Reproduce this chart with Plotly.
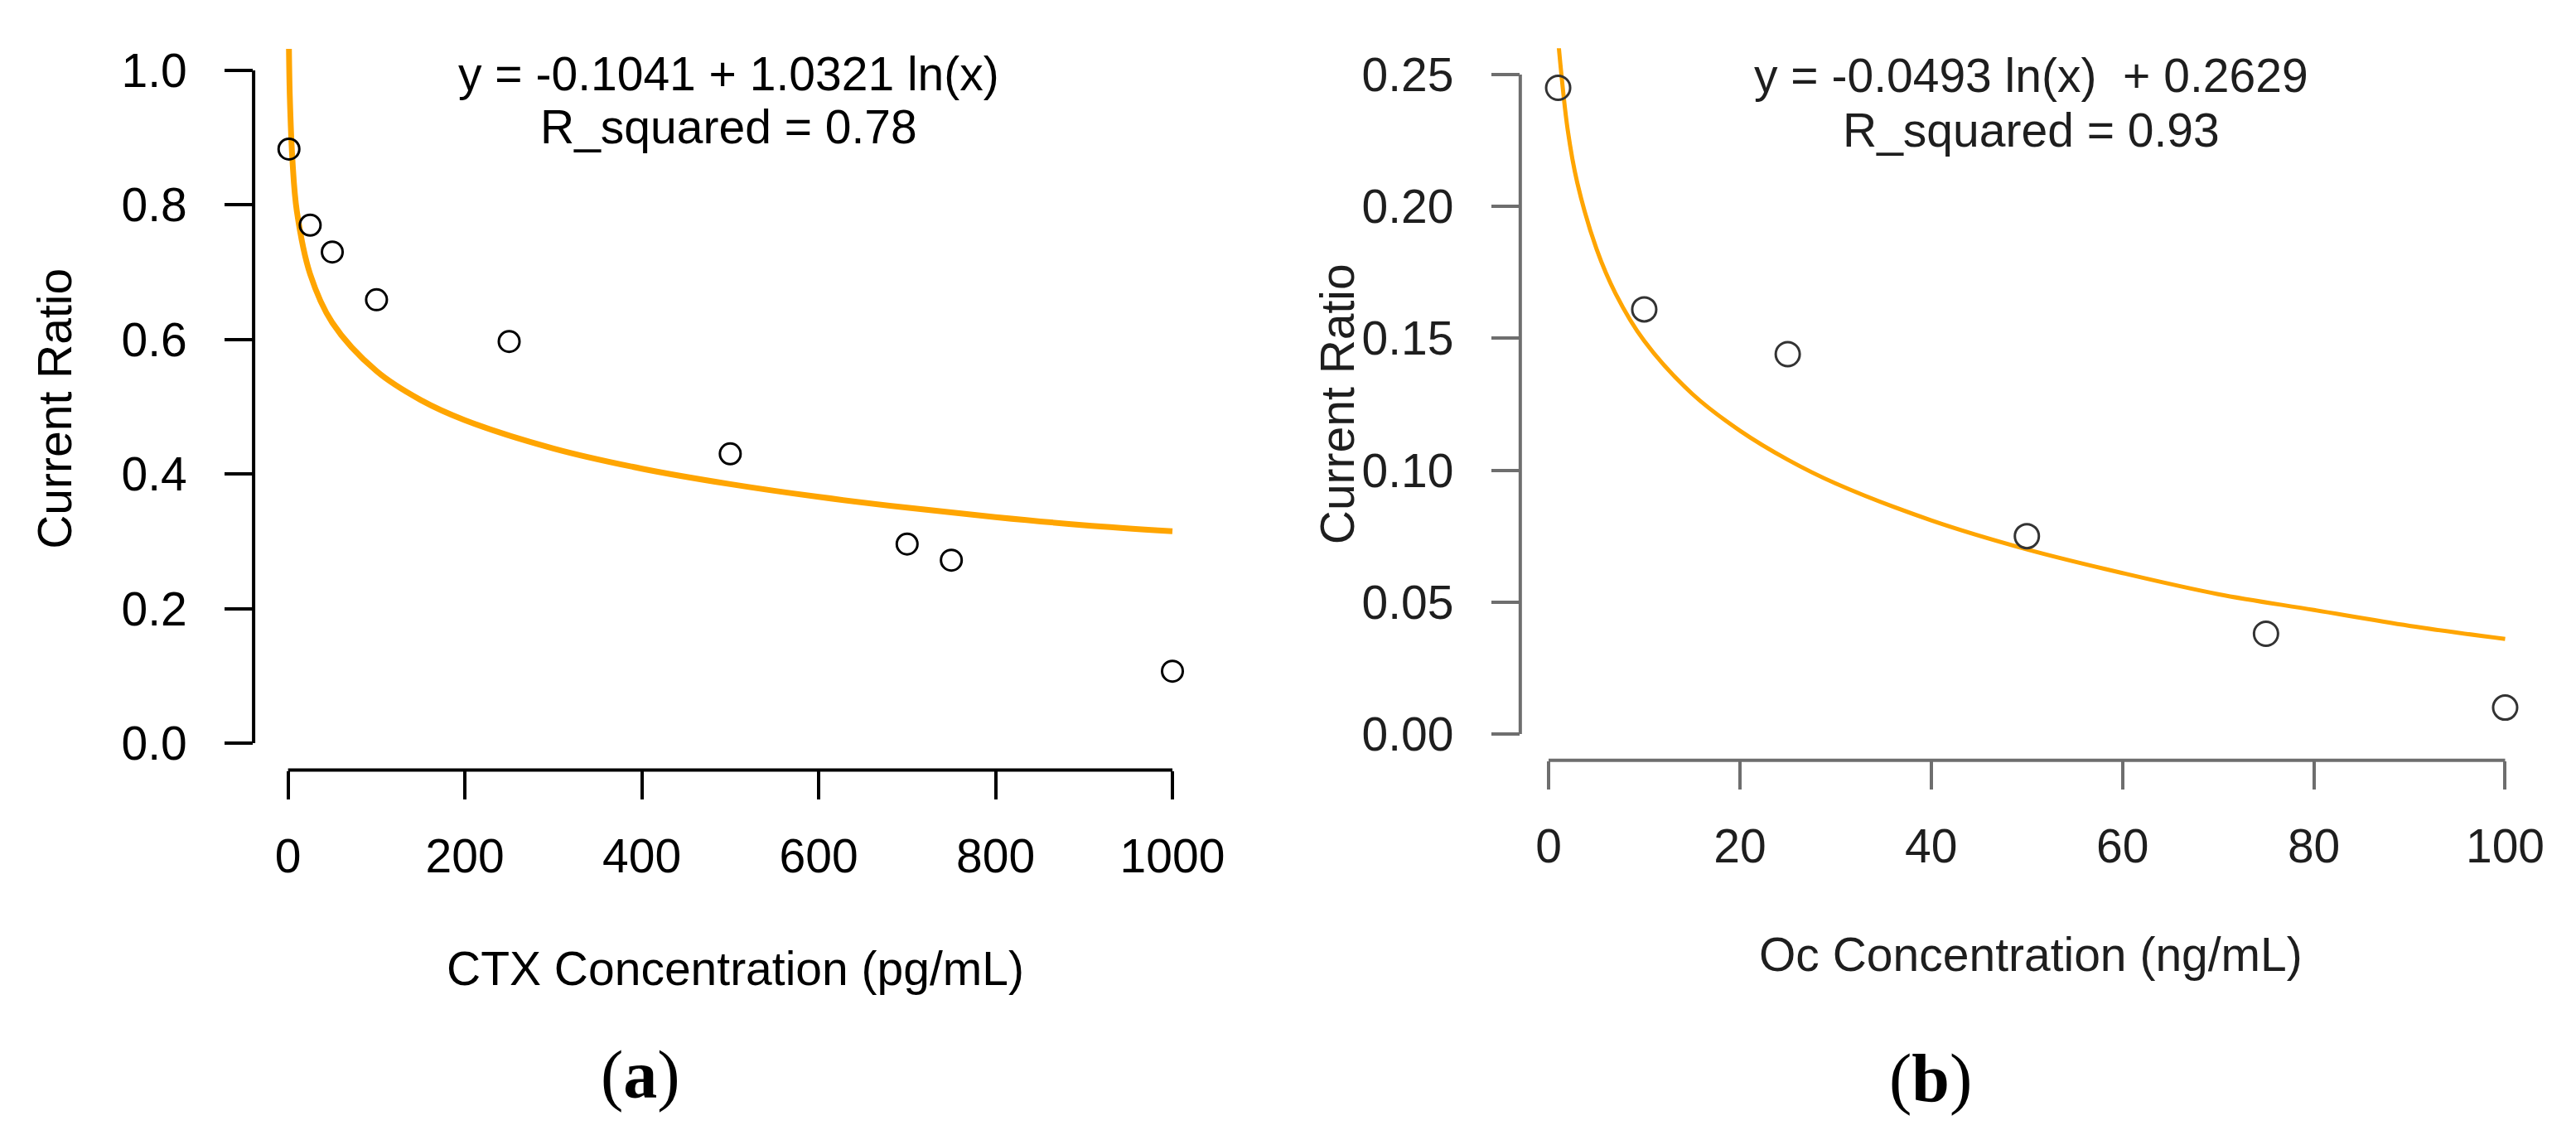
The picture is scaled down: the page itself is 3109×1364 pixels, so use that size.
import plotly.graph_objects as go

W, H = 3109, 1364

# panel (a): CTX
ctx_x = [1, 25, 50, 100, 250, 500, 700, 750, 1000]
ctx_y = [0.883, 0.770, 0.730, 0.659, 0.597, 0.430, 0.296, 0.272, 0.107]
ctx_fit_x = [1, 2, 5, 10, 25, 50, 100, 150, 200, 300, 400, 500, 600, 700, 800, 900, 1000]
ctx_fit_y = [1.032, 0.96, 0.865, 0.79, 0.697, 0.625, 0.553, 0.51, 0.48, 0.438, 0.408, 0.385,
             0.366, 0.35, 0.336, 0.324, 0.315]
ctx_xticks = [0, 200, 400, 600, 800, 1000]
ctx_yticks = [0.0, 0.2, 0.4, 0.6, 0.8, 1.0]
ctx_yticktext = ["0.0", "0.2", "0.4", "0.6", "0.8", "1.0"]

# panel (b): Oc
oc_x = [1, 10, 25, 50, 75, 100]
oc_y = [0.245, 0.161, 0.144, 0.075, 0.038, 0.010]
oc_fit_x = [1, 2, 3, 5, 7, 10, 15, 20, 25, 30, 40, 50, 60, 70, 80, 90, 100]
oc_fit_y = [0.263, 0.229, 0.209, 0.184, 0.167, 0.149, 0.129, 0.115, 0.104, 0.095, 0.081,
            0.070, 0.061, 0.053, 0.047, 0.041, 0.036]
oc_xticks = [0, 20, 40, 60, 80, 100]
oc_yticks = [0.00, 0.05, 0.10, 0.15, 0.20, 0.25]
oc_yticktext = ["0.00", "0.05", "0.10", "0.15", "0.20", "0.25"]

SANS = "Liberation Sans, Arial, sans-serif"
SERIF = "Liberation Serif, Times New Roman, serif"
ORANGE = "#FFA500"

fig = go.Figure()
fig.add_trace(go.Scatter(x=ctx_fit_x, y=ctx_fit_y, mode="lines", line_shape="spline",
                         line={"color": ORANGE, "width": 7}, xaxis="x", yaxis="y"))
fig.add_trace(go.Scatter(x=ctx_x, y=ctx_y, mode="markers", xaxis="x", yaxis="y",
                         marker={"symbol": "circle-open", "size": 25, "color": "black",
                                 "line": {"width": 3, "color": "black"}}))
fig.add_trace(go.Scatter(x=oc_fit_x, y=oc_fit_y, mode="lines", line_shape="spline",
                         line={"color": ORANGE, "width": 5}, xaxis="x2", yaxis="y2"))
fig.add_trace(go.Scatter(x=oc_x, y=oc_y, mode="markers", xaxis="x2", yaxis="y2",
                         marker={"symbol": "circle-open", "size": 29, "color": "#333333",
                                 "line": {"width": 3, "color": "#333333"}}))


def axis(domain, rng, ticks, text, color, font_color, anchor, standoff):
    return {
        "domain": domain,
        "range": rng,
        "anchor": anchor,
        "tickmode": "array",
        "tickvals": ticks,
        "ticktext": text,
        "ticks": "outside",
        "ticklen": 34,
        "tickwidth": 4,
        "tickcolor": color,
        "tickfont": {"family": SANS, "size": 57, "color": font_color},
        "ticklabelstandoff": standoff,
        "showline": False,
        "showgrid": False,
        "zeroline": False,
    }


fig.update_layout(
    width=W,
    height=H,
    margin={"l": 0, "r": 0, "t": 0, "b": 0},
    paper_bgcolor="white",
    plot_bgcolor="white",
    showlegend=False,
    xaxis=axis([0.0965, 0.4693], [-38.96, 1039.96], ctx_xticks, [str(v) for v in ctx_xticks],
               "black", "black", "y", 20),
    yaxis=axis([0.3244, 0.9674], [-0.04, 1.04], ctx_yticks, ctx_yticktext,
               "black", "black", "x", 34),
    xaxis2=axis([0.5914, 0.9910], [-2.96, 103.96], oc_xticks, [str(v) for v in oc_xticks],
                "#6e6e6e", "#1e1e1e", "y2", 20),
    yaxis2=axis([0.3330, 0.9632], [-0.01, 0.26], oc_yticks, oc_yticktext,
                "#6e6e6e", "#1e1e1e", "x2", 34),
)

# R-style axis lines spanning only the tick range
for xr, yr, xt, yt, col in [("x", "y", ctx_xticks, ctx_yticks, "black"),
                            ("x2", "y2", oc_xticks, oc_yticks, "#6e6e6e")]:
    fig.add_shape(type="line", xref=xr, yref=yr + " domain", x0=min(xt), x1=max(xt), y0=0, y1=0,
                  line={"color": col, "width": 4})
    fig.add_shape(type="line", xref=xr + " domain", yref=yr, x0=0, x1=0, y0=min(yt), y1=max(yt),
                  line={"color": col, "width": 4})


def label(text, x, y, color="black", size=57, family=SANS, angle=0):
    fig.add_annotation(text=text, x=x, y=y, xref="paper", yref="paper", showarrow=False,
                       xanchor="center", yanchor="middle", textangle=angle,
                       font={"family": family, "size": size, "color": color})


label("y = -0.1041 + 1.0321 ln(x)", 0.2821, 0.9407)
label("R_squared = 0.78", 0.2821, 0.8938)
label("Current Ratio", 0.0187, 0.6444, angle=-90)
label("CTX Concentration (pg/mL)", 0.2847, 0.1486)
label("(<b>a</b>)", 0.2477, 0.0549, size=82, family=SERIF)

label("y = -0.0493 ln(x)  + 0.2629", 0.7909, 0.9393, color="#1e1e1e")
label("R_squared = 0.93", 0.7909, 0.8909, color="#1e1e1e")
label("Current Ratio", 0.5200, 0.6481, color="#1e1e1e", angle=-90)
label("Oc Concentration (ng/mL)", 0.7909, 0.1610, color="#1e1e1e")
label("(<b>b</b>)", 0.7517, 0.0517, size=82, family=SERIF)

fig.write_html("out.html")
